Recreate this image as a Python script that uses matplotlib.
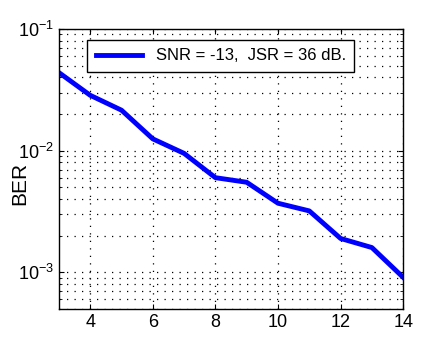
import numpy as np
import matplotlib.pyplot as plt

# data
snr_x = [3, 4, 5, 6, 7, 8, 9, 10, 11, 12, 13, 14]
ber = [0.0438, 0.0285, 0.0215, 0.0125, 0.0095, 0.0060, 0.0055,
       0.0037, 0.0032, 0.0019, 0.0016, 0.00091]
label = 'SNR = -13,  JSR = 36 dB.'

plt.rcParams['font.family'] = ['Liberation Sans', 'DejaVu Sans']

fig = plt.figure(figsize=(4.46, 3.40), dpi=100)
ax = fig.add_axes([0.132, 0.091, 0.772, 0.824])

ax.semilogy(snr_x, ber, color='#0000ff', linewidth=3.5, label=label)

ax.set_xlim(3, 14)
ax.set_ylim(5e-4, 1e-1)
ax.set_xticks([4, 6, 8, 10, 12, 14])
ax.set_yticks([1e-3, 1e-2, 1e-1])
ax.tick_params(which='both', direction='in', top=True, right=True, labelsize=13)
ax.tick_params(which='minor', length=2)
dots = (0, (1, 5))
ax.grid(True, which='major', axis='x', linestyle=dots, color='black', linewidth=0.9)
ax.grid(True, which='both', axis='y', linestyle=dots, color='black', linewidth=0.9)
ax.set_ylabel('BER', fontsize=15)
ax.yaxis.set_label_coords(-0.085, 0.45)

for s in ax.spines.values():
    s.set_linewidth(1.0)

leg = ax.legend(loc='upper center', bbox_to_anchor=(0.47, 0.99), fontsize=12,
                fancybox=False, edgecolor='black', framealpha=1,
                handlelength=2.8, borderpad=0.5)
leg.get_frame().set_linewidth(1.0)

fig.savefig('out.png', dpi=100)
